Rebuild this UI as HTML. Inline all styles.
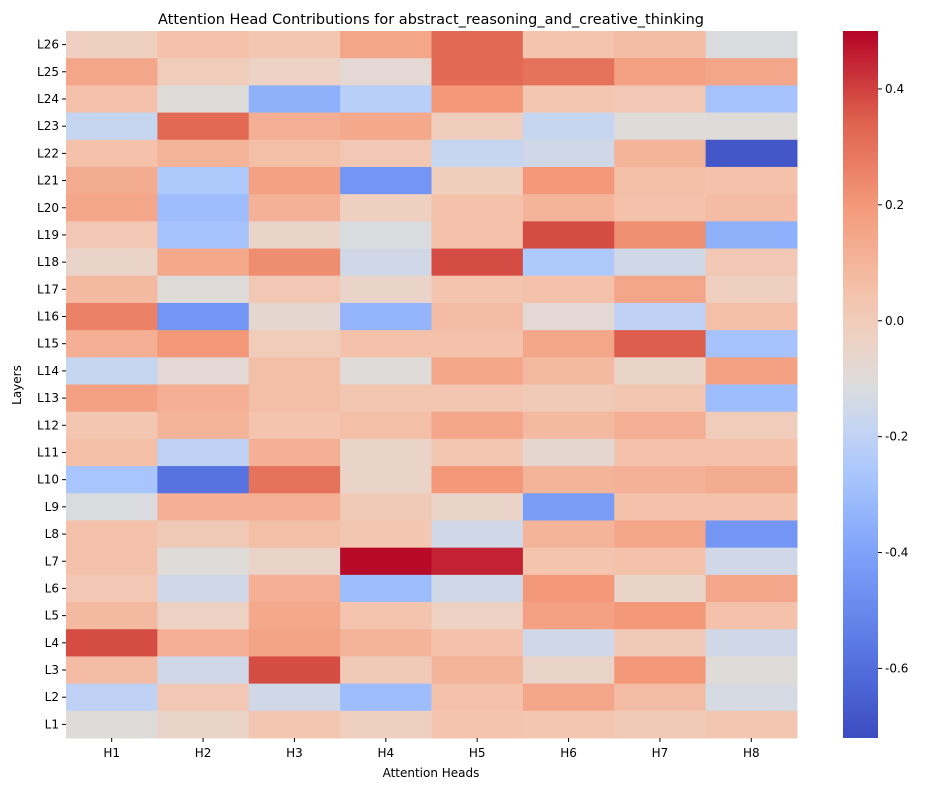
<!DOCTYPE html>
<html><head><meta charset="utf-8"><style>
body{margin:0;background:#fff;font-family:"Liberation Sans","DejaVu Sans",sans-serif}
svg text{font-family:"DejaVu Sans","Liberation Sans",sans-serif;fill:#000}
</style></head><body>
<svg id="chart" width="931" height="790" xmlns="http://www.w3.org/2000/svg"></svg>
<script>
const heads=["H1","H2","H3","H4","H5","H6","H7","H8"];
const layers=["L26","L25","L24","L23","L22","L21","L20","L19","L18","L17","L16","L15","L14","L13","L12","L11","L10","L9","L8","L7","L6","L5","L4","L3","L2","L1"];
const values=[
[-0.02,0.05,0.03,0.15,0.32,0.04,0.07,-0.12],
[0.15,0.0,-0.04,-0.08,0.32,0.30,0.17,0.15],
[0.05,-0.10,-0.35,-0.22,0.20,0.03,0.02,-0.28],
[-0.18,0.32,0.12,0.14,-0.01,-0.18,-0.10,-0.10],
[0.05,0.10,0.06,0.02,-0.18,-0.15,0.10,-0.68],
[0.13,-0.25,0.17,-0.45,-0.01,0.20,0.06,0.05],
[0.15,-0.30,0.11,-0.02,0.05,0.10,0.05,0.07],
[0.02,-0.28,-0.05,-0.12,0.05,0.38,0.22,-0.35],
[-0.05,0.14,0.23,-0.15,0.38,-0.25,-0.15,0.02],
[0.08,-0.10,0.02,-0.05,0.04,0.05,0.15,-0.02],
[0.26,-0.45,-0.07,-0.33,0.07,-0.08,-0.20,0.06],
[0.12,0.20,0.0,0.05,0.05,0.15,0.35,-0.28],
[-0.18,-0.08,0.06,-0.10,0.15,0.08,-0.05,0.17],
[0.17,0.12,0.06,0.03,0.03,0.01,0.03,-0.30],
[0.03,0.10,0.04,0.06,0.15,0.08,0.12,0.0],
[0.06,-0.20,0.12,-0.05,0.03,-0.07,0.05,0.05],
[-0.27,-0.58,0.30,-0.05,0.20,0.10,0.11,0.13],
[-0.12,0.12,0.12,0.01,-0.05,-0.42,0.05,0.05],
[0.05,0.01,0.06,0.03,-0.15,0.10,0.15,-0.45],
[0.05,-0.10,-0.05,0.49,0.45,0.04,0.05,-0.15],
[0.02,-0.15,0.12,-0.30,-0.15,0.20,-0.05,0.15],
[0.08,-0.03,0.14,0.04,-0.03,0.17,0.20,0.05],
[0.38,0.12,0.16,0.10,0.05,-0.15,0.01,-0.15],
[0.07,-0.15,0.38,0.01,0.10,-0.05,0.20,-0.10],
[-0.20,0.02,-0.15,-0.30,0.05,0.15,0.07,-0.13],
[-0.10,-0.05,0.03,-0.02,0.04,0.03,0.01,0.03]];
const cbTicks=[0.4,0.2,0.0,-0.2,-0.4,-0.6];
const vmin=-0.72,vmax=0.5;
const X0=66,X1=797,Y0=31,Y1=738;
const NS="http://www.w3.org/2000/svg";
const svg=document.getElementById('chart');
const stops=[[0,[59,76,192]],[0.125,[89,119,227]],[0.25,[123,159,249]],[0.375,[170,199,253]],[0.4375,[196,213,243]],[0.5,[221,220,220]],[0.5625,[237,210,196]],[0.625,[244,196,173]],[0.75,[244,154,123]],[0.875,[222,96,77]],[1,[180,4,38]]];
function cmap(v){let t=Math.max(0,Math.min(1,(v-vmin)/(vmax-vmin)));for(let i=1;i<stops.length;i++){if(t<=stops[i][0]){const a=stops[i-1],b=stops[i],f=(t-a[0])/(b[0]-a[0]);return 'rgb('+a[1].map((c,k)=>Math.round(c+(b[1][k]-c)*f)).join(',')+')';}}return 'rgb(180,4,38)';}
const cw=(X1-X0)/heads.length,ch=(Y1-Y0)/layers.length;
function xs(i){return X0+i*cw}
function ys(j){return Y0+j*ch}
function mk(tag,attrs,txt){const e=document.createElementNS(NS,tag);for(const k in attrs)e.setAttribute(k,attrs[k]);if(txt!==undefined)e.textContent=txt;svg.appendChild(e);return e;}
values.forEach((row,j)=>row.forEach((v,i)=>{
 const r=mk('rect',{x:xs(i),y:ys(j),width:cw+0.5,height:ch+0.5,fill:cmap(v)});
 
 
}));
heads.forEach((h,i)=>{const cx=xs(i)+cw/2;mk('line',{x1:cx,x2:cx,y1:Y1,y2:Y1+4,stroke:'#000'});
 const t=mk('text',{x:cx,y:Y1+19,'text-anchor':'middle','font-size':12},h);
 
 });
layers.forEach((l,j)=>{const cy=ys(j)+ch/2;mk('line',{x1:X0-4,x2:X0,y1:cy,y2:cy,stroke:'#000'});
 const t=mk('text',{x:X0-7,y:cy+4,'text-anchor':'end','font-size':12},l);
 
 });
const title=mk('text',{x:431,y:24,'text-anchor':'middle','font-size':14.5},'Attention Head Contributions for abstract_reasoning_and_creative_thinking');


const xt=mk('text',{x:431,y:777,'text-anchor':'middle','font-size':12},'Attention Heads');


const yt=mk('text',{x:21,y:385,'text-anchor':'middle','font-size':12,transform:'rotate(-90 21 385)'},'Layers');


const CB0=843,CB1=878;
const defs=mk('defs',{});
const g=document.createElementNS(NS,'linearGradient');g.setAttribute('id','cbg');g.setAttribute('x1','0');g.setAttribute('y1','1');g.setAttribute('x2','0');g.setAttribute('y2','0');defs.appendChild(g);
stops.forEach(s=>{const st=document.createElementNS(NS,'stop');st.setAttribute('offset',s[0]);st.setAttribute('stop-color','rgb('+s[1].join(',')+')');g.appendChild(st);});
const cb=mk('rect',{x:CB0,y:Y0,width:CB1-CB0,height:Y1-Y0,fill:'url(#cbg)'});


function cy(v){return Y1-(v-vmin)/(vmax-vmin)*(Y1-Y0)}
cbTicks.forEach(v=>{const y=cy(v);mk('line',{x1:CB1,x2:CB1+4,y1:y,y2:y,stroke:'#000'});
 const t=mk('text',{x:CB1+7,y:y+4,'font-size':12},v.toFixed(1));
 
 });
</script>
</body></html>
